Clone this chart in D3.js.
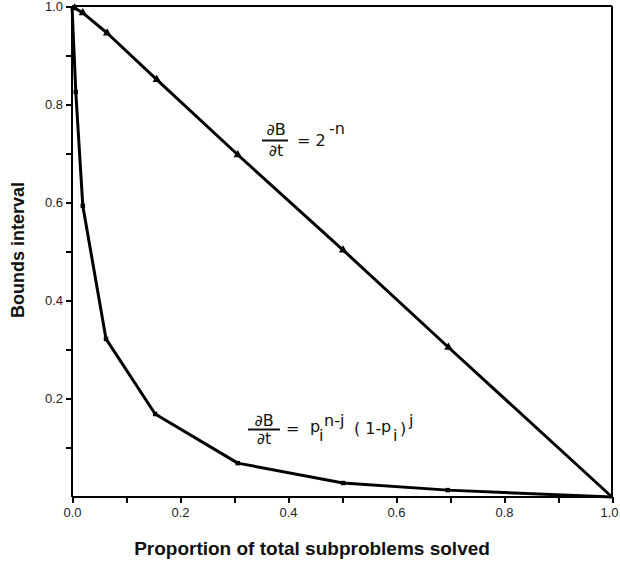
<!DOCTYPE html>
<html>
<head>
<meta charset="utf-8">
<script src="https://cdn.jsdelivr.net/npm/d3@7"></script>
<style>
  body { margin: 0; background: #fff; }
  svg { display: block; }
  .axis path, .axis line { stroke: #000; stroke-width: 2; shape-rendering: crispEdges; }
  .axis text { font-family: "Liberation Sans", Arial, sans-serif; font-size: 13px; fill: #222; }
  .title { font-family: "Liberation Sans", Arial, sans-serif; font-size: 18px; font-weight: bold; fill: #111; }
  .eq { font-family: "DejaVu Sans", sans-serif; font-size: 16px; fill: #111; }
</style>
</head>
<body>
<svg id="chart" width="620" height="567"></svg>
<script>
// series
const upperX = [0, 0.005, 0.02, 0.065, 0.157, 0.307, 0.502, 0.697, 1.0];
const upperY = [1.0, 0.996, 0.986, 0.945, 0.85, 0.697, 0.503, 0.305, 0.0];
const lowerX = [0, 0.007, 0.02, 0.063, 0.154, 0.307, 0.502, 0.696, 1.0];
const lowerY = [1.0, 0.825, 0.593, 0.322, 0.169, 0.069, 0.0285, 0.014, 0.0];

const xTicks = [0, 0.1, 0.2, 0.3, 0.4, 0.5, 0.6, 0.7, 0.8, 0.9, 1.0];
const yTicks = [0.1, 0.2, 0.3, 0.4, 0.5, 0.6, 0.7, 0.8, 0.9, 1.0];
const xLabels = ["0.0", "", "0.2", "", "0.4", "", "0.6", "", "0.8", "", "1.0"];
const yLabels = ["", "0.2", "", "0.4", "", "0.6", "", "0.8", "", "1.0"];

const margin = {top: 6, left: 72};
const width = 540, height = 491;

const svg = d3.select("#chart");
const g = svg.append("g").attr("transform", "translate(" + margin.left + "," + margin.top + ")");

const x = d3.scaleLinear().domain([0, 1]).range([0, width]);
const y = d3.scaleLinear().domain([0, 1]).range([height, 0]);

// frame top + right
g.append("line").attr("x1", 0).attr("x2", width).attr("y1", 0).attr("y2", 0)
  .attr("stroke", "#000").attr("stroke-width", 2);
g.append("line").attr("x1", width).attr("x2", width).attr("y1", 0).attr("y2", height)
  .attr("stroke", "#000").attr("stroke-width", 2);

const xAxis = g.append("g")
  .attr("class", "axis")
  .attr("transform", "translate(0," + height + ")")
  .call(d3.axisBottom(x).tickValues(xTicks).tickSize(6).tickPadding(5)
    .tickFormat((d, i) => xLabels[i]))
  .call(a => a.select(".domain").attr("d", "M0,0H" + width));
// last label sits on the window edge, nudge it in
xAxis.selectAll(".tick text").filter(d => d === 1).attr("dx", -3);

g.append("g")
  .attr("class", "axis")
  .call(d3.axisLeft(y).tickValues(yTicks).tickSize(6).tickPadding(3)
    .tickFormat((d, i) => yLabels[i]))
  .call(a => a.select(".domain").attr("d", "M0,0V" + height));

const line = d3.line().x(d => x(d[0])).y(d => y(d[1]));
const upper = upperX.map((v, i) => [v, upperY[i]]);
const lower = lowerX.map((v, i) => [v, lowerY[i]]);

[upper, lower].forEach(s => {
  g.append("path").datum(s)
    .attr("fill", "none").attr("stroke", "#000").attr("stroke-width", 3)
    .attr("stroke-linejoin", "round")
    .attr("d", line);
});

g.selectAll(".tri").data(upper.slice(1, -1)).enter().append("path")
  .attr("class", "tri")
  .attr("transform", d => "translate(" + x(d[0]) + "," + y(d[1]) + ")")
  .attr("d", d3.symbol(d3.symbolTriangle).size(30))
  .attr("fill", "#000");

g.selectAll(".sq").data(lower.slice(1, -1)).enter().append("path")
  .attr("class", "sq")
  .attr("transform", d => "translate(" + x(d[0]) + "," + y(d[1]) + ")")
  .attr("d", d3.symbol(d3.symbolSquare).size(20))
  .attr("fill", "#000");

// axis titles
svg.append("text").attr("class", "title")
  .attr("transform", "translate(24,250) rotate(-90)")
  .attr("text-anchor", "middle")
  .text("Bounds interval");
svg.append("text").attr("class", "title")
  .style("font-size", "19px")
  .attr("x", 312).attr("y", 555)
  .attr("text-anchor", "middle")
  .text("Proportion of total subproblems solved");

// equation: dB/dt = 2^-n
svg.append("text").attr("class", "eq").attr("x", 276).attr("y", 135).attr("text-anchor", "middle").text("∂B");
svg.append("line").attr("x1", 262).attr("x2", 288).attr("y1", 140.5).attr("y2", 140.5).attr("stroke", "#111").attr("stroke-width", 2);
svg.append("text").attr("class", "eq").attr("x", 276).attr("y", 156).attr("text-anchor", "middle").text("∂t");
const e1 = svg.append("text").attr("class", "eq");
e1.append("tspan").attr("x", 297).attr("y", 146).text("= 2");
e1.append("tspan").attr("x", 329).attr("y", 134).text("-n");

// equation: dB/dt = p_i^(n-j) (1 - p_i)^j
svg.append("text").attr("class", "eq").attr("x", 264).attr("y", 426).attr("text-anchor", "middle").text("∂B");
svg.append("line").attr("x1", 248).attr("x2", 280).attr("y1", 429.5).attr("y2", 429.5).attr("stroke", "#111").attr("stroke-width", 2);
svg.append("text").attr("class", "eq").attr("x", 264).attr("y", 444).attr("text-anchor", "middle").text("∂t");
const e2 = svg.append("text").attr("class", "eq");
e2.append("tspan").attr("x", 286).attr("y", 434).text("=");
e2.append("tspan").attr("x", 310).attr("y", 432).text("p");
e2.append("tspan").attr("x", 319).attr("y", 441).text("i");
e2.append("tspan").attr("x", 324).attr("y", 426).text("n-j");
e2.append("tspan").attr("x", 354).attr("y", 434).text("( 1-");
e2.append("tspan").attr("x", 381).attr("y", 432).text("p");
e2.append("tspan").attr("x", 393).attr("y", 441).text("i");
e2.append("tspan").attr("x", 400).attr("y", 434).text(")");
e2.append("tspan").attr("x", 409).attr("y", 426).text("j");
</script>
</body>
</html>
